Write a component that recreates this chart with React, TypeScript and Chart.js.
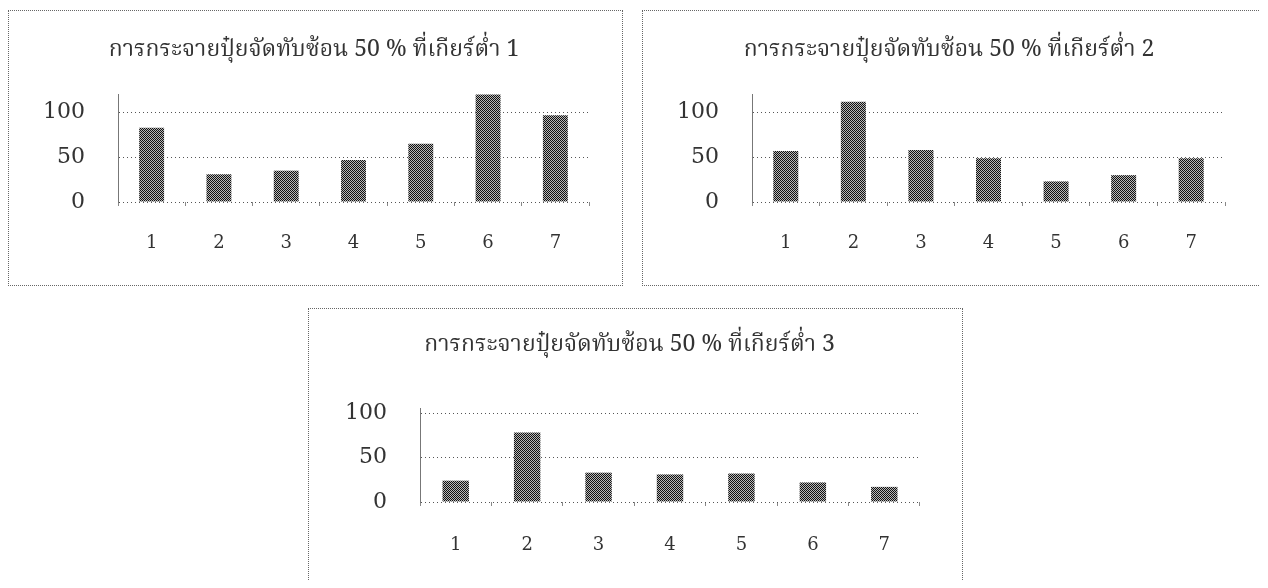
import React, { useEffect, useRef } from "react";
import { Chart, registerables } from "chart.js";

Chart.register(...registerables);

// ---- data ----
const categories = ["1", "2", "3", "4", "5", "6", "7"];
const gear1Values = [83, 31, 35, 47, 65, 120, 97];
const gear2Values = [57, 112, 58, 49, 23, 30, 49];
const gear3Values = [24, 78, 33, 31, 32, 22, 17];
const yTickValues = [0, 50, 100];
const chartTitles = [
  "การกระจายปุ๋ยจัดทับซ้อน 50 % ที่เกียร์ต่ำ 1",
  "การกระจายปุ๋ยจัดทับซ้อน 50 % ที่เกียร์ต่ำ 2",
  "การกระจายปุ๋ยจัดทับซ้อน 50 % ที่เกียร์ต่ำ 3",
];

const TICK_FONT = "'DejaVu Serif', 'Liberation Serif', serif";
const TITLE_FONT = "'Noto Serif Thai', 'Noto Sans Thai', Norasi, Loma, Garuda, 'Noto Sans', sans-serif";

type PanelProps = {
  left: number;
  top: number;
  width: number;
  height: number;
  values: number[];
  title: string;
  yMax: number;
  axisX: number;
  leftPad: number;
  rightPad: number;
  titleTop: number;
  titleBottom: number;
  xPad: number;
  bottomPad: number;
};

function makePattern(ctx: CanvasRenderingContext2D) {
  const p = document.createElement("canvas");
  p.width = 2;
  p.height = 2;
  const pc = p.getContext("2d")!;
  pc.fillStyle = "#b8b8b8";
  pc.fillRect(0, 0, 2, 2);
  pc.fillStyle = "#111";
  pc.fillRect(0, 0, 1, 1);
  pc.fillRect(1, 1, 1, 1);
  return ctx.createPattern(p, "repeat")!;
}

function BarPanel(props: PanelProps) {
  const ref = useRef<HTMLCanvasElement | null>(null);
  const cw = props.width - 2;
  const ch = props.height - 2;

  useEffect(() => {
    const canvas = ref.current!;
    const ctx = canvas.getContext("2d")!;
    const pattern = makePattern(ctx);
    const chart = new Chart(canvas, {
      type: "bar",
      data: {
        labels: categories,
        datasets: [
          {
            data: props.values,
            backgroundColor: pattern as any,
            borderWidth: 0,
            categoryPercentage: 1,
            barPercentage: 0.37,
            clip: false as any,
          },
        ],
      },
      options: {
        animation: false,
        responsive: false,
        devicePixelRatio: 1,
        layout: {
          padding: { left: props.leftPad, right: props.rightPad, top: 0, bottom: props.bottomPad },
        },
        plugins: {
          legend: { display: false },
          tooltip: { enabled: false },
          title: {
            display: true,
            text: props.title,
            color: "#333",
            font: { family: TITLE_FONT, size: 23, weight: "normal" as any, lineHeight: 1.2 },
            padding: { top: props.titleTop, bottom: props.titleBottom },
          },
        },
        scales: {
          x: {
            grid: {
              display: true,
              drawOnChartArea: false,
              drawTicks: true,
              tickLength: 4,
              color: "#888",
              offset: true,
            },
            border: { display: false },
            ticks: {
              color: "#333",
              padding: props.xPad,
              font: { family: TICK_FONT, size: 18 },
              maxRotation: 0,
            },
            afterFit: (s: any) => {
              s.height = 4 + props.xPad + 24;
            },
          },
          y: {
            min: 0,
            max: props.yMax,
            afterBuildTicks: (axis: any) => {
              axis.ticks = yTickValues.map((v) => ({ value: v }));
            },
            grid: {
              color: "#555",
              drawTicks: false,
              lineWidth: 1,
            },
            border: { display: true, color: "#777", dash: [1, 3] },
            ticks: {
              color: "#333",
              padding: 33,
              font: { family: TICK_FONT, size: 22 },
            },
            afterFit: (s: any) => {
              s.width = props.axisX - props.leftPad;
            },
          },
        },
      },
    });
    return () => chart.destroy();
  }, []);

  return (
    <div
      style={{
        position: "absolute",
        left: props.left - 8,
        top: props.top - 8,
        width: props.width - 2,
        height: props.height - 2,
        border: "1px dotted #666",
        background: "#fff",
      }}
    >
      <canvas ref={ref} width={cw} height={ch} style={{ display: "block" }} />
    </div>
  );
}

export default function App() {
  return (
    <div style={{ position: "relative", width: 1252, height: 572, background: "#fff" }}>
      <BarPanel
        left={8}
        top={10}
        width={615}
        height={276}
        values={gear1Values}
        title={chartTitles[0]}
        yMax={120}
        axisX={109}
        leftPad={30}
        rightPad={33}
        titleTop={27}
        titleBottom={29}
        xPad={27}
        bottomPad={28}
      />
      <BarPanel
        left={642}
        top={10}
        width={621}
        height={276}
        values={gear2Values}
        title={chartTitles[1]}
        yMax={120}
        axisX={109}
        leftPad={30}
        rightPad={37}
        titleTop={27}
        titleBottom={29}
        xPad={27}
        bottomPad={28}
      />
      <BarPanel
        left={308}
        top={308}
        width={655}
        height={278}
        values={gear3Values}
        title={chartTitles[2]}
        yMax={105}
        axisX={111}
        leftPad={30}
        rightPad={42}
        titleTop={24}
        titleBottom={48}
        xPad={29}
        bottomPad={26}
      />
    </div>
  );
}
